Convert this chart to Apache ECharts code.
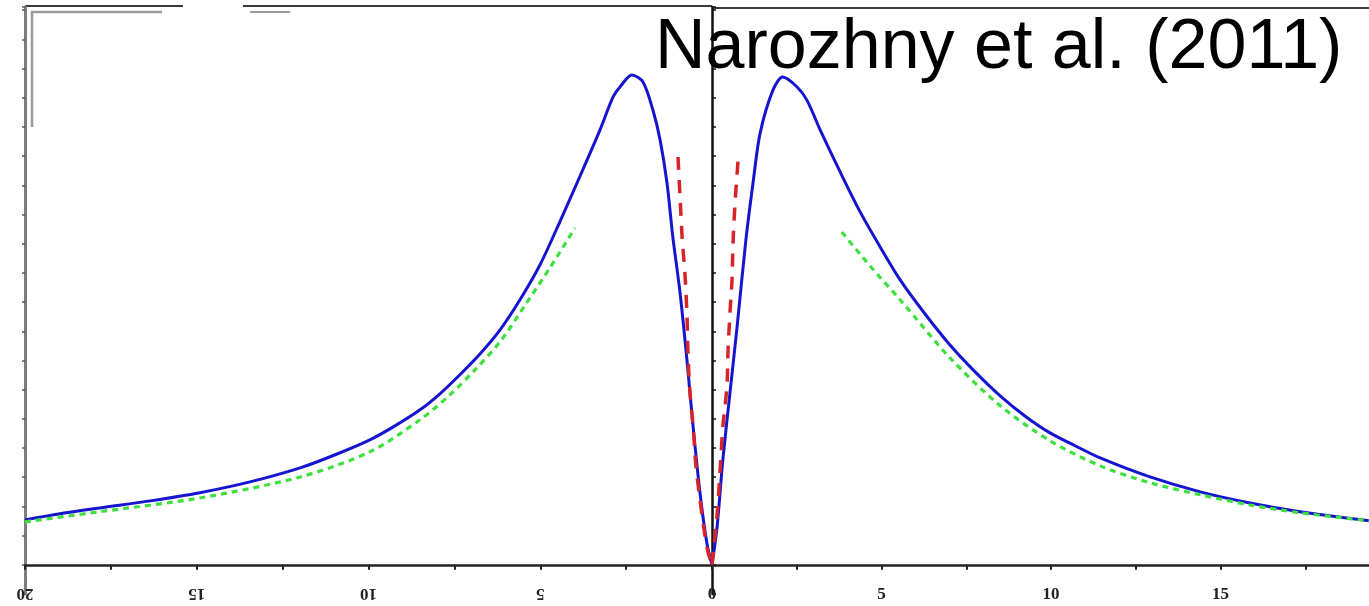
<!DOCTYPE html>
<html>
<head>
<meta charset="utf-8">
<script src="https://cdn.jsdelivr.net/npm/echarts@6/dist/echarts.min.js"></script>
<style>
html,body{margin:0;padding:0;background:#fff;}
#chart{width:1369px;height:606px;}
</style>
</head>
<body>
<div id="chart"></div>
<script>
// ---- data (x in axis units, y in arbitrary units) ----
const titleText = 'Narozhny et al. (2011)';
const leftTickLabels = {'-20':'20','-15':'15','-10':'10','-5':'5'};
const rightTickLabels = {'0':'0','5':'5','10':'10','15':'15'};

const blueLeft = [
  [-20.00,1.54],[-18.98,1.75],[-17.82,1.95],[-16.36,2.19],[-14.91,2.47],[-13.45,2.84],
  [-11.99,3.32],[-10.97,3.77],[-9.96,4.28],[-9.23,4.76],[-8.50,5.31],[-7.92,5.86],
  [-7.34,6.51],[-6.75,7.23],[-6.17,8.05],[-5.59,9.08],[-5.01,10.27],[-4.43,11.75],
  [-3.84,13.32],[-3.26,14.90],[-2.88,16.03],[-2.68,16.37],[-2.33,16.78],[-2.01,16.54],
  [-1.72,15.58],[-1.51,14.55],[-1.31,13.08],[-1.14,11.23],[-0.93,9.32],[-0.73,7.02],
  [-0.55,4.73],[-0.35,2.47],[-0.15,0.75],[0,0]
];
const greenLeft = [
  [-20.00,1.47],[-17.82,1.82],[-14.91,2.29],[-11.99,3.01],[-9.96,3.87],[-8.50,4.97],
  [-7.63,5.82],[-6.90,6.68],[-6.17,7.64],[-5.44,8.90],[-4.72,10.17],[-3.99,11.54]
];
const redLeft = [
  [-0.99,13.97],[-0.93,12.60],[-0.87,11.23],[-0.79,10.00],[-0.73,8.63],[-0.70,7.26],
  [-0.64,5.89],[-0.55,4.73],[-0.47,3.42],[-0.35,2.23],[-0.23,1.20],[-0.12,0.45],[0,0]
];
const blueRight = [
  [0,0],[0.15,1.30],[0.32,3.60],[0.53,5.89],[0.74,8.15],[1.00,11.13],[1.21,13.08],
  [1.42,14.79],[1.80,16.27],[2.09,16.71],[2.51,16.37],[2.80,15.92],[3.19,14.90],
  [3.78,13.46],[4.37,12.09],[4.96,10.89],[5.55,9.76],[6.28,8.60],[7.02,7.53],
  [7.76,6.61],[8.50,5.79],[9.23,5.10],[9.97,4.52],[10.71,4.08],[11.45,3.66],
  [12.92,3.01],[14.40,2.50],[15.87,2.12],[17.35,1.82],[19.38,1.51]
];
const greenRight = [
  [3.83,11.40],[4.66,10.24],[5.55,9.08],[7.02,7.09],[8.50,5.45],[9.97,4.25],
  [11.45,3.39],[12.92,2.81],[14.40,2.40],[15.87,2.05],[17.35,1.78],[19.38,1.51]
];
const redRight = [
  [0,0],[0.06,0.68],[0.15,1.71],[0.24,3.25],[0.32,4.73],[0.44,6.10],[0.47,7.26],
  [0.53,8.63],[0.59,9.76],[0.62,11.03],[0.68,12.40],[0.77,13.87]
];

const chart = echarts.init(document.getElementById('chart'), null, {renderer:'canvas'});

const labelFont = {fontFamily:'"Liberation Serif", "DejaVu Serif", serif', fontSize:17, fontWeight:'bold', color:'#222'};

function blueSeries(data, idx){
  return {type:'line', data, xAxisIndex:idx, yAxisIndex:idx, smooth:0.3, showSymbol:false, symbol:'none',
    lineStyle:{color:'#1515cf', width:3}, z:2};
}
function greenSeries(data, idx){
  return {type:'line', data, xAxisIndex:idx, yAxisIndex:idx, smooth:0.3, showSymbol:false, symbol:'none',
    lineStyle:{color:'#3ee03e', width:3.2, type:[6,5]}, z:3};
}
function redSeries(data, idx){
  return {type:'line', data, xAxisIndex:idx, yAxisIndex:idx, smooth:0.3, showSymbol:false, symbol:'none',
    lineStyle:{color:'#d82428', width:3.5, type:[13,10]}, z:4};
}

const option = {
  animation:false,
  backgroundColor:'#fff',
  title:{
    text:titleText, left:655, top:14, padding:0,
    textStyle:{fontFamily:'"Liberation Sans", Arial, sans-serif', fontSize:70, fontWeight:'normal', color:'#000'}
  },
  grid:[
    {left:25, width:687, top:7, bottom:12, containLabel:false, outerBoundsMode:'none'},
    {left:712, right:0, top:7, bottom:12, containLabel:false, outerBoundsMode:'none'}
  ],
  xAxis:[
    {gridIndex:0, type:'value', min:-20, max:0, interval:2.5,
     axisLine:{onZero:true, lineStyle:{color:'#222', width:2.5}},
     axisTick:{length:5, lineStyle:{color:'#222', width:2}},
     splitLine:{show:false},
     axisLabel:Object.assign({interval:0, margin:-9, rotate:180, showMaxLabel:false,
       formatter:v => leftTickLabels[String(v)] || ''}, labelFont)},
    {gridIndex:1, type:'value', min:0, max:19.38, interval:2.5,
     axisLine:{onZero:true, lineStyle:{color:'#222', width:2.5}},
     axisTick:{length:5, lineStyle:{color:'#222', width:2}},
     splitLine:{show:false},
     axisLabel:Object.assign({interval:0, margin:-8, showMaxLabel:false, showMinLabel:true,
       formatter:v => rightTickLabels[String(v)] || ''}, labelFont)}
  ],
  yAxis:[
    {gridIndex:0, type:'value', min:-1, max:19.11, interval:1,
     axisLine:{show:true, onZero:false, lineStyle:{color:'#7d7d7d', width:3}},
     axisTick:{show:true, length:3, lineStyle:{color:'#555', width:1.5}},
     axisLabel:{show:false}, splitLine:{show:false}},
    {gridIndex:1, type:'value', min:-1, max:19.11, interval:1,
     axisLine:{show:true, onZero:false, lineStyle:{color:'#111', width:2.5}},
     axisTick:{show:true, inside:true, length:4, lineStyle:{color:'#111', width:1.5}},
     axisLabel:{show:false}, splitLine:{show:false}}
  ],
  graphic:[
    {type:'polyline', shape:{points:[[25,6],[183,6]]}, style:{stroke:'#3a3a3a', lineWidth:2}, silent:true},
    {type:'polyline', shape:{points:[[243,6],[712,6]]}, style:{stroke:'#3a3a3a', lineWidth:2}, silent:true},
    {type:'polyline', shape:{points:[[712,8],[1369,8]]}, style:{stroke:'#3a3a3a', lineWidth:2}, silent:true},
    {type:'polyline', shape:{points:[[32,127],[32,12],[162,12]]}, style:{stroke:'#9a9a9a', lineWidth:2.5, fill:null}, silent:true},
    {type:'polyline', shape:{points:[[250,12],[290,12]]}, style:{stroke:'#9a9a9a', lineWidth:2}, silent:true}
  ],
  series:[
    blueSeries(blueLeft,0), greenSeries(greenLeft,0), redSeries(redLeft,0),
    blueSeries(blueRight,1), greenSeries(greenRight,1), redSeries(redRight,1)
  ]
};
chart.setOption(option);
</script>
</body>
</html>
